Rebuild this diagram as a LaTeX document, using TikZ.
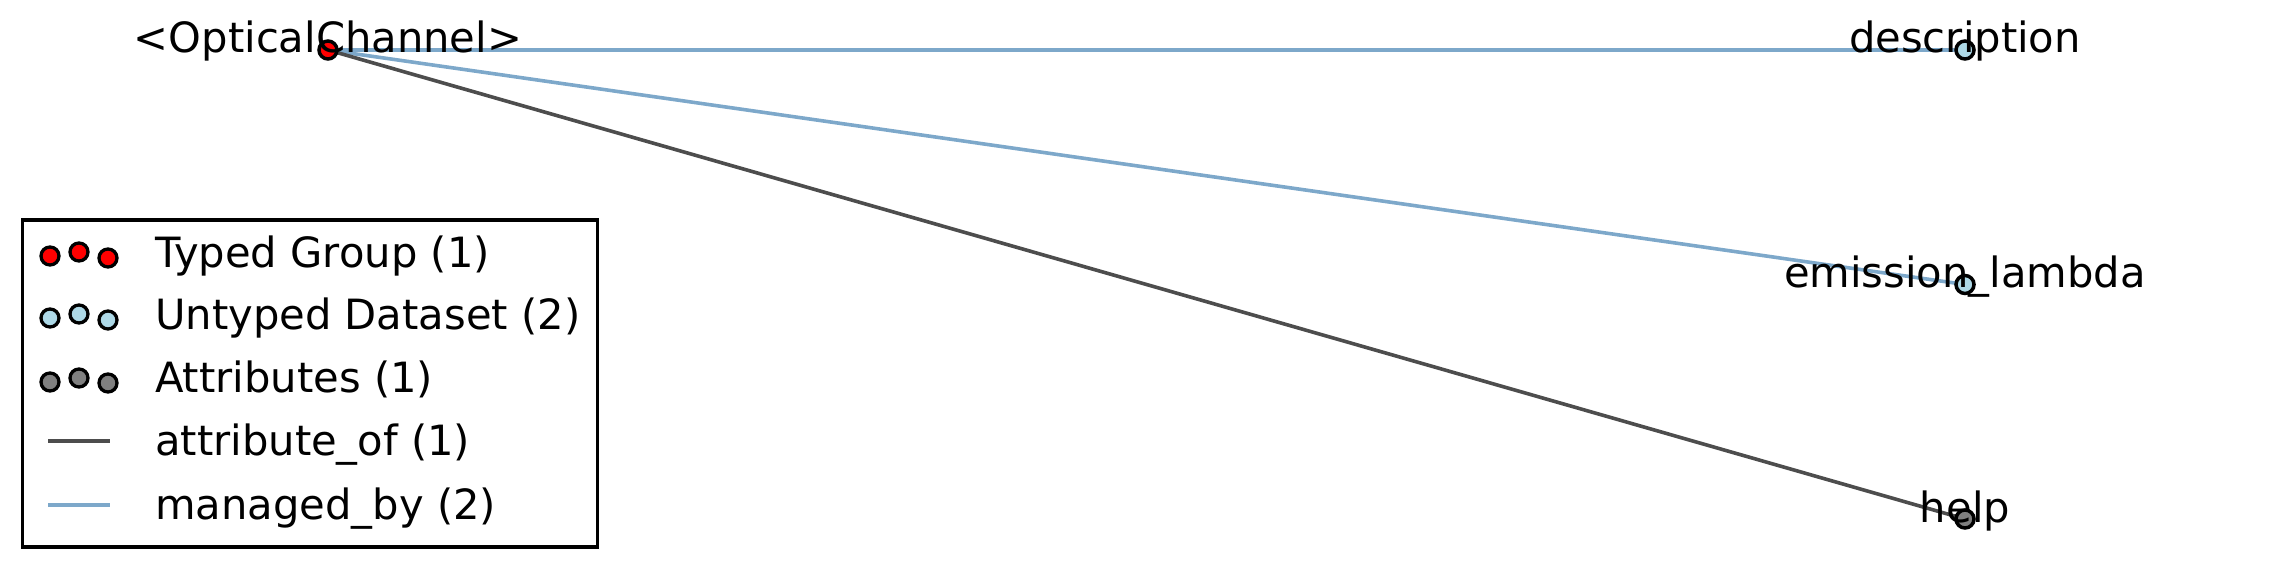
\documentclass[tikz,border=0pt]{standalone}
\usepackage{fontspec}
\setmainfont{DejaVu Sans}
\usetikzlibrary{backgrounds}
\definecolor{grpred}{RGB}{255,0,0}
\definecolor{dsblue}{RGB}{173,216,230}
\definecolor{attgray}{RGB}{128,128,128}
\definecolor{attedge}{RGB}{77,77,77}
\definecolor{mgedge}{RGB}{125,168,202}
\tikzset{
  gnode/.style={circle, draw=black, line width=3.5pt, minimum size=18pt, inner sep=0pt},
  lmark/.style={circle, draw=black, line width=3.3pt, minimum size=18pt, inner sep=0pt},
  glabel/.style={anchor=base, inner sep=0pt, font=\fontsize{41.67}{50}\selectfont},
  ltext/.style={anchor=base west, inner sep=0pt, font=\fontsize{41.67}{50}\selectfont},
  attline/.style={draw=attedge, line width=3.6pt},
  mgline/.style={draw=mgedge, line width=3.6pt},
}
\begin{document}
\begin{tikzpicture}[x=1pt, y=-1pt]
\useasboundingbox (0,0) rectangle (2292,567);
% graph nodes
\node[gnode, fill=grpred] (oc) at (328,50) {};
\node[gnode, fill=dsblue] (desc) at (1965,50) {};
\node[gnode, fill=dsblue] (emis) at (1965,284.5) {};
\node[gnode, fill=attgray] (help) at (1965,519) {};
\begin{pgfonlayer}{background}
  \draw[mgline] (oc.center) -- (desc.center);
  \draw[mgline] (oc.center) -- (emis.center);
  \draw[attline] (oc.center) -- (help.center);
\end{pgfonlayer}
% labels
\node[glabel] (loc) at (328,53) {<OpticalChannel>};
\node[glabel] (ldesc) at (1965,53) {description};
\node[glabel] (lemis) at (1965,287.5) {emission\_lambda};
\node[glabel] (lhelp) at (1965,522) {help};
% legend
\node[draw=black, line width=3.5pt, minimum width=575pt, minimum height=327pt, anchor=north west, inner sep=0pt] (legend) at (20.5,218) {};
\node[lmark, fill=grpred] (m11) at (50,256) {};
\node[lmark, fill=grpred] (m12) at (79,252) {};
\node[lmark, fill=grpred] (m13) at (108,258) {};
\node[lmark, fill=dsblue] (m21) at (50,318) {};
\node[lmark, fill=dsblue] (m22) at (79,314) {};
\node[lmark, fill=dsblue] (m23) at (108,320) {};
\node[lmark, fill=attgray] (m31) at (50,382) {};
\node[lmark, fill=attgray] (m32) at (79,378) {};
\node[lmark, fill=attgray] (m33) at (108,383) {};
\coordinate (a1) at (48,441);
\coordinate (a2) at (110,441);
\draw[attline] (a1) -- (a2);
\coordinate (b1) at (48,505);
\coordinate (b2) at (110,505);
\draw[mgline] (b1) -- (b2);
\node[ltext] (t1) at (155,267) {Typed Group (1)};
\node[ltext] (t2) at (155,329) {Untyped Dataset (2)};
\node[ltext] (t3) at (155,392) {Attributes (1)};
\node[ltext] (t4) at (155,455) {attribute\_of (1)};
\node[ltext] (t5) at (155,519) {managed\_by (2)};
\end{tikzpicture}
\end{document}
